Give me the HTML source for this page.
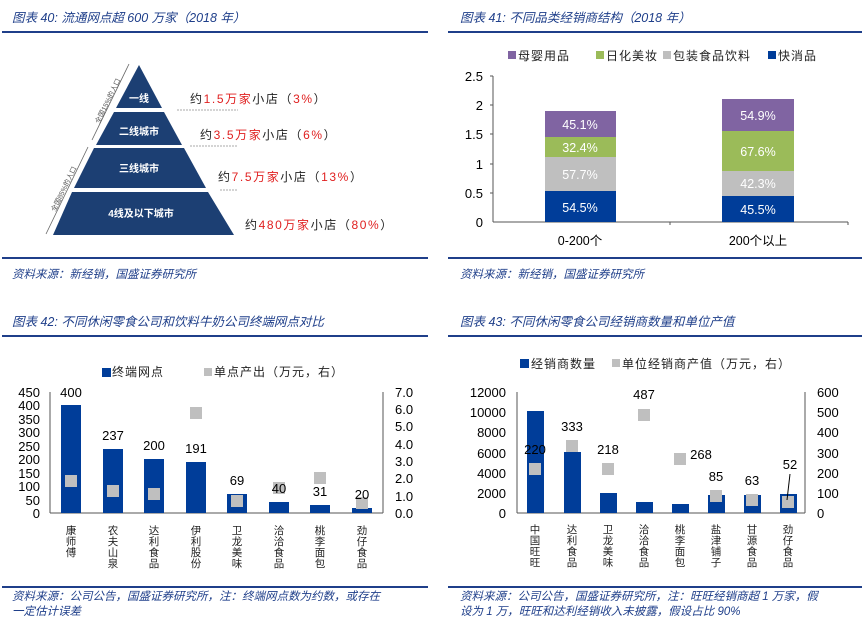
<!DOCTYPE html>
<html><head><meta charset="utf-8"><style>
body{margin:0;background:#fff}
svg text{font-family:"Liberation Sans","Noto Sans CJK SC",sans-serif}
.t{font-size:12.5px;fill:#1f3f8a;font-style:italic}
.s{font-size:11.5px;fill:#1f3f8a;font-style:italic}
.lg{font-size:12px;fill:#222;letter-spacing:1px}
</style></head><body>
<svg width="865" height="626" viewBox="0 0 865 626" xmlns="http://www.w3.org/2000/svg">
<!-- ===== Top-left ===== -->
<text class="t" x="12" y="22">图表 40:  流通网点超 600 万家（2018 年）</text>
<rect x="2" y="31" width="426" height="2" fill="#1f3f8a"/>
<rect x="2" y="257" width="426" height="2" fill="#1f3f8a"/>
<text class="s" x="12" y="278">资料来源：新经销，国盛证券研究所</text>
<g fill="#1c3f73">
<polygon points="139,65 162,108 116,108"/>
<polygon points="114,112 164,112 182,145 96,145"/>
<polygon points="94,148 184,148 206,188 74,188"/>
<polygon points="72,192 208,192 234,235 53,235"/>
</g>
<g fill="#fff" font-size="10" font-weight="bold" text-anchor="middle">
<text x="139" y="102">一线</text><text x="139" y="135">二线城市</text>
<text x="139" y="172">三线城市</text><text x="141" y="217">4线及以下城市</text>
</g>
<line x1="129" y1="64" x2="92" y2="140" stroke="#666" stroke-width="0.8"/>
<line x1="88" y1="147" x2="46" y2="234" stroke="#666" stroke-width="0.8"/>
<text font-size="7" fill="#555" transform="translate(110,102) rotate(-64)" text-anchor="middle">全国15%的人口</text>
<text font-size="7" fill="#555" transform="translate(66,190) rotate(-64)" text-anchor="middle">全国85%的人口</text>
<g stroke="#aaa" stroke-dasharray="2,1" stroke-width="1">
<line x1="177" y1="110" x2="238" y2="110"/><line x1="190" y1="146" x2="238" y2="146"/><line x1="220" y1="190" x2="238" y2="190"/>
</g>
<g font-size="12" fill="#222" letter-spacing="1.6">
<text x="190" y="103">约<tspan fill="#e02020">1.5万家</tspan>小店（<tspan fill="#e02020">3%</tspan>）</text>
<text x="200" y="139">约<tspan fill="#e02020">3.5万家</tspan>小店（<tspan fill="#e02020">6%</tspan>）</text>
<text x="218" y="181">约<tspan fill="#e02020">7.5万家</tspan>小店（<tspan fill="#e02020">13%</tspan>）</text>
<text x="245" y="229">约<tspan fill="#e02020">480万家</tspan>小店（<tspan fill="#e02020">80%</tspan>）</text>
</g>
<!-- ===== Top-right ===== -->
<text class="t" x="460" y="22">图表 41:  不同品类经销商结构（2018 年）</text>
<rect x="448" y="31" width="414" height="2" fill="#1f3f8a"/>
<rect x="448" y="257" width="414" height="2" fill="#1f3f8a"/>
<text class="s" x="460" y="278">资料来源：新经销，国盛证券研究所</text>
<rect x="508" y="51" width="8" height="8" fill="#8064a2"/><text class="lg" x="518" y="60">母婴用品</text>
<rect x="596" y="51" width="8" height="8" fill="#9bbb59"/><text class="lg" x="606" y="60">日化美妆</text>
<rect x="663" y="51" width="8" height="8" fill="#bfbfbf"/><text class="lg" x="673" y="60">包装食品饮料</text>
<rect x="768" y="51" width="8" height="8" fill="#003d99"/><text class="lg" x="778" y="60">快消品</text>
<g font-size="13" fill="#000" text-anchor="end">
<text x="483" y="227">0</text><text x="483" y="198">0.5</text><text x="483" y="169">1</text>
<text x="483" y="139">1.5</text><text x="483" y="110">2</text><text x="483" y="81">2.5</text>
</g>
<g stroke="#555" stroke-width="1">
<line x1="493" y1="76" x2="493" y2="222"/><line x1="493" y1="222" x2="848" y2="222"/>
<line x1="490" y1="76" x2="493" y2="76"/><line x1="490" y1="105" x2="493" y2="105"/><line x1="490" y1="134" x2="493" y2="134"/><line x1="490" y1="164" x2="493" y2="164"/><line x1="490" y1="193" x2="493" y2="193"/>
<line x1="670" y1="222" x2="670" y2="225"/><line x1="848" y1="222" x2="848" y2="225"/>
</g>
<rect x="545" y="191" width="71" height="31" fill="#003d99"/>
<rect x="545" y="157" width="71" height="34" fill="#bfbfbf"/>
<rect x="545" y="137" width="71" height="20" fill="#9bbb59"/>
<rect x="545" y="111" width="71" height="26" fill="#8064a2"/>
<rect x="722" y="196" width="72" height="26" fill="#003d99"/>
<rect x="722" y="171" width="72" height="25" fill="#bfbfbf"/>
<rect x="722" y="131" width="72" height="40" fill="#9bbb59"/>
<rect x="722" y="99" width="72" height="32" fill="#8064a2"/>
<g font-size="12.5" fill="#fff" text-anchor="middle">
<text x="580" y="212">54.5%</text><text x="580" y="179">57.7%</text><text x="580" y="152">32.4%</text><text x="580" y="129">45.1%</text>
<text x="758" y="214">45.5%</text><text x="758" y="188">42.3%</text><text x="758" y="156">67.6%</text><text x="758" y="120">54.9%</text>
</g>
<g font-size="12.5" fill="#000" text-anchor="middle"><text x="580" y="245">0-200个</text><text x="758" y="245">200个以上</text></g>
<!-- ===== Bottom-left ===== -->
<text class="t" x="12" y="326">图表 42:  不同休闲零食公司和饮料牛奶公司终端网点对比</text>
<rect x="2" y="335" width="426" height="2" fill="#1f3f8a"/>
<rect x="2" y="586" width="426" height="2" fill="#1f3f8a"/>
<text class="s" x="12" y="600">资料来源：公司公告，国盛证券研究所，注：终端网点数为约数，或存在</text>
<text class="s" x="12" y="615">一定估计误差</text>
<rect x="102" y="368" width="9" height="9" fill="#003d99"/><text class="lg" x="112" y="376">终端网点</text>
<rect x="204" y="368" width="8" height="8" fill="#bfbfbf"/><text class="lg" x="214" y="376">单点产出（万元，右）</text>
<g font-size="13" fill="#000" text-anchor="end">
<text x="40" y="518">0</text><text x="40" y="505">50</text><text x="40" y="491">100</text><text x="40" y="478">150</text><text x="40" y="464">200</text><text x="40" y="451">250</text><text x="40" y="437">300</text><text x="40" y="424">350</text><text x="40" y="410">400</text><text x="40" y="397">450</text>
</g>
<g font-size="13" fill="#000">
<text x="395" y="518">0.0</text><text x="395" y="501">1.0</text><text x="395" y="483">2.0</text><text x="395" y="466">3.0</text><text x="395" y="449">4.0</text><text x="395" y="431">5.0</text><text x="395" y="414">6.0</text><text x="395" y="397">7.0</text>
</g>
<g stroke="#555"><line x1="50" y1="392" x2="50" y2="513"/><line x1="50" y1="513" x2="383" y2="513"/><line x1="383" y1="392" x2="383" y2="513"/></g>
<g fill="#003d99">
<rect x="61" y="405" width="20" height="108"/><rect x="103" y="449" width="20" height="64"/><rect x="144" y="459" width="20" height="54"/><rect x="186" y="462" width="20" height="51"/>
<rect x="227" y="494" width="20" height="19"/><rect x="269" y="502" width="20" height="11"/><rect x="310" y="505" width="20" height="8"/><rect x="352" y="508" width="20" height="5"/>
</g>
<g fill="#bfbfbf">
<rect x="65" y="475" width="12" height="12"/><rect x="107" y="485" width="12" height="12"/><rect x="148" y="488" width="12" height="12"/><rect x="190" y="407" width="12" height="12"/>
<rect x="231" y="495" width="12" height="12"/><rect x="273" y="482" width="12" height="12"/><rect x="314" y="472" width="12" height="12"/><rect x="356" y="497" width="12" height="12"/>
</g>
<g font-size="13" fill="#000" text-anchor="middle">
<text x="71" y="397">400</text><text x="113" y="440">237</text><text x="154" y="450">200</text><text x="196" y="453">191</text>
<text x="237" y="485">69</text><text x="279" y="493">40</text><text x="320" y="496">31</text><text x="362" y="499">20</text>
</g>
<g font-size="10.5" fill="#222" text-anchor="middle">
<text x="71" y="534">康</text><text x="71" y="545">师</text><text x="71" y="556">傅</text>
<text x="113" y="534">农</text><text x="113" y="545">夫</text><text x="113" y="556">山</text><text x="113" y="567">泉</text>
<text x="154" y="534">达</text><text x="154" y="545">利</text><text x="154" y="556">食</text><text x="154" y="567">品</text>
<text x="196" y="534">伊</text><text x="196" y="545">利</text><text x="196" y="556">股</text><text x="196" y="567">份</text>
<text x="237" y="534">卫</text><text x="237" y="545">龙</text><text x="237" y="556">美</text><text x="237" y="567">味</text>
<text x="279" y="534">洽</text><text x="279" y="545">洽</text><text x="279" y="556">食</text><text x="279" y="567">品</text>
<text x="320" y="534">桃</text><text x="320" y="545">李</text><text x="320" y="556">面</text><text x="320" y="567">包</text>
<text x="362" y="534">劲</text><text x="362" y="545">仔</text><text x="362" y="556">食</text><text x="362" y="567">品</text>
</g>
<!-- ===== Bottom-right ===== -->
<text class="t" x="460" y="326">图表 43:  不同休闲零食公司经销商数量和单位产值</text>
<rect x="448" y="335" width="414" height="2" fill="#1f3f8a"/>
<rect x="448" y="586" width="414" height="2" fill="#1f3f8a"/>
<text class="s" x="460" y="600">资料来源：公司公告，国盛证券研究所，注：旺旺经销商超 1 万家，假</text>
<text class="s" x="460" y="615">设为 1 万，旺旺和达利经销收入未披露，假设占比 90%</text>
<rect x="520" y="359" width="9" height="9" fill="#003d99"/><text class="lg" x="531" y="368">经销商数量</text>
<rect x="612" y="359" width="8" height="8" fill="#bfbfbf"/><text class="lg" x="622" y="368">单位经销商产值（万元，右）</text>
<g font-size="13" fill="#000" text-anchor="end">
<text x="506" y="518">0</text><text x="506" y="498">2000</text><text x="506" y="478">4000</text><text x="506" y="458">6000</text><text x="506" y="437">8000</text><text x="506" y="417">10000</text><text x="506" y="397">12000</text>
</g>
<g font-size="13" fill="#000">
<text x="817" y="518">0</text><text x="817" y="498">100</text><text x="817" y="478">200</text><text x="817" y="458">300</text><text x="817" y="437">400</text><text x="817" y="417">500</text><text x="817" y="397">600</text>
</g>
<g stroke="#555"><line x1="517" y1="392" x2="517" y2="513"/><line x1="517" y1="513" x2="805" y2="513"/><line x1="805" y1="392" x2="805" y2="513"/></g>
<g fill="#003d99">
<rect x="527" y="411" width="17" height="102"/><rect x="564" y="452" width="17" height="61"/><rect x="600" y="493" width="17" height="20"/><rect x="636" y="502" width="17" height="11"/>
<rect x="672" y="504" width="17" height="9"/><rect x="708" y="495" width="17" height="18"/><rect x="744" y="495" width="17" height="18"/><rect x="780" y="494" width="17" height="19"/>
</g>
<g fill="#bfbfbf">
<rect x="529" y="463" width="12" height="12"/><rect x="566" y="440" width="12" height="12"/><rect x="602" y="463" width="12" height="12"/><rect x="638" y="409" width="12" height="12"/>
<rect x="674" y="453" width="12" height="12"/><rect x="710" y="490" width="12" height="12"/><rect x="746" y="494" width="12" height="12"/><rect x="782" y="496" width="12" height="12"/>
</g>
<line x1="790" y1="474" x2="787" y2="500" stroke="#000" stroke-width="1"/>
<g font-size="13" fill="#000" text-anchor="middle">
<text x="535" y="454">220</text><text x="572" y="431">333</text><text x="608" y="454">218</text><text x="644" y="399">487</text>
<text x="701" y="459">268</text><text x="716" y="481">85</text><text x="752" y="485">63</text><text x="790" y="469">52</text>
</g>
<g font-size="10.5" fill="#222" text-anchor="middle">
<text x="535" y="533">中</text><text x="535" y="544">国</text><text x="535" y="555">旺</text><text x="535" y="566">旺</text>
<text x="572" y="533">达</text><text x="572" y="544">利</text><text x="572" y="555">食</text><text x="572" y="566">品</text>
<text x="608" y="533">卫</text><text x="608" y="544">龙</text><text x="608" y="555">美</text><text x="608" y="566">味</text>
<text x="644" y="533">洽</text><text x="644" y="544">洽</text><text x="644" y="555">食</text><text x="644" y="566">品</text>
<text x="680" y="533">桃</text><text x="680" y="544">李</text><text x="680" y="555">面</text><text x="680" y="566">包</text>
<text x="716" y="533">盐</text><text x="716" y="544">津</text><text x="716" y="555">铺</text><text x="716" y="566">子</text>
<text x="752" y="533">甘</text><text x="752" y="544">源</text><text x="752" y="555">食</text><text x="752" y="566">品</text>
<text x="788" y="533">劲</text><text x="788" y="544">仔</text><text x="788" y="555">食</text><text x="788" y="566">品</text>
</g>
</svg>
</body></html>
